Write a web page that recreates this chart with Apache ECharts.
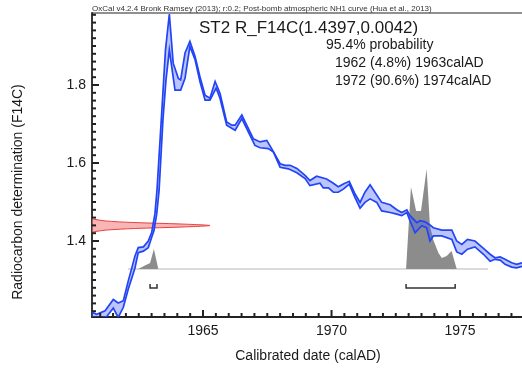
<!DOCTYPE html>
<html><head><meta charset="utf-8">
<script src="https://cdn.jsdelivr.net/npm/echarts@6/dist/echarts.min.js"></script>
<style>html,body{margin:0;padding:0;background:#fff}#c{width:522px;height:370px}</style>
</head><body><div id="c"></div>
<script>
// ---- texts ----
const headerText = 'OxCal v4.2.4 Bronk Ramsey (2013); r:0.2; Post-bomb atmospheric NH1 curve (Hua et al., 2013)';
const sampleTitle = 'ST2 R_F14C(1.4397,0.0042)';
const probLines = ['95.4% probability', '1962 (4.8%) 1963calAD', '1972 (90.6%) 1974calAD'];
const xAxisName = 'Calibrated date (calAD)';
const yAxisName = 'Radiocarbon determination (F14C)';

// ---- ticks ----
const xMajorTicks = [1965, 1970, 1975];
const xMinorTicks = [1961, 1961.5, 1962, 1962.5, 1963, 1963.5, 1964, 1964.5, 1965.5, 1966, 1966.5, 1967, 1967.5, 1968, 1968.5, 1969, 1969.5, 1970.5, 1971, 1971.5, 1972, 1972.5, 1973, 1973.5, 1974, 1974.5, 1975.5, 1976, 1976.5, 1977];
const yMajorTicks = [1.4, 1.6, 1.8];
const yMinorTicks = [1.22, 1.24, 1.26, 1.28, 1.30, 1.32, 1.34, 1.36, 1.38, 1.42, 1.44, 1.46, 1.48, 1.50, 1.52, 1.54, 1.56, 1.58, 1.62, 1.64, 1.66, 1.68, 1.70, 1.72, 1.74, 1.76, 1.78, 1.82, 1.84, 1.86, 1.88, 1.90, 1.92, 1.94, 1.96, 1.98];

// ---- calibration curve (upper / lower envelope) ----
const upperYears = [1960.68,1960.86,1961.19,1961.51,1961.70,1961.90,1962.09,1962.23,1962.35,1962.48,1962.68,1962.87,1963.00,1963.13,1963.21,1963.40,1963.54,1963.69,1963.84,1964.04,1964.13,1964.30,1964.49,1964.69,1964.88,1965.08,1965.27,1965.47,1965.66,1965.92,1966.12,1966.25,1966.51,1966.70,1966.96,1967.22,1967.48,1967.67,1968.00,1968.19,1968.39,1968.65,1968.97,1969.16,1969.42,1969.81,1970.07,1970.26,1970.46,1970.69,1970.91,1971.11,1971.30,1971.50,1971.69,1971.95,1972.28,1972.54,1972.73,1972.93,1973.05,1973.32,1973.44,1973.64,1973.83,1973.96,1974.29,1974.68,1974.87,1975.07,1975.29,1975.58,1975.91,1976.17,1976.36,1976.56,1976.75,1977.01,1977.20,1977.41];
const upperVals = [1.217,1.212,1.221,1.250,1.241,1.247,1.297,1.331,1.361,1.383,1.385,1.400,1.421,1.470,1.531,1.736,1.890,1.982,1.856,1.817,1.813,1.882,1.912,1.873,1.821,1.774,1.766,1.809,1.779,1.705,1.697,1.697,1.723,1.697,1.662,1.654,1.658,1.637,1.598,1.594,1.594,1.586,1.568,1.555,1.566,1.559,1.548,1.539,1.546,1.553,1.521,1.499,1.525,1.544,1.525,1.499,1.493,1.480,1.473,1.480,1.465,1.447,1.452,1.449,1.441,1.434,1.428,1.428,1.400,1.391,1.404,1.400,1.381,1.366,1.357,1.359,1.353,1.344,1.340,1.344];
const lowerYears = [1960.68,1960.93,1961.25,1961.51,1961.70,1961.90,1962.09,1962.23,1962.35,1962.48,1962.68,1962.87,1963.00,1963.09,1963.20,1963.29,1963.44,1963.56,1963.69,1963.91,1964.13,1964.30,1964.49,1964.69,1964.88,1965.08,1965.27,1965.51,1965.66,1965.92,1966.25,1966.51,1966.70,1967.02,1967.22,1967.54,1967.74,1968.00,1968.32,1968.65,1968.97,1969.16,1969.55,1969.68,1969.88,1970.07,1970.26,1970.46,1970.69,1970.91,1971.11,1971.30,1971.50,1971.76,1971.95,1972.28,1972.54,1972.73,1972.93,1973.05,1973.25,1973.51,1973.70,1973.83,1973.96,1974.29,1974.68,1974.87,1975.07,1975.29,1975.58,1975.91,1976.17,1976.36,1976.56,1976.75,1977.01,1977.20,1977.41];
const lowerVals = [1.204,1.199,1.206,1.228,1.204,1.230,1.276,1.305,1.330,1.370,1.374,1.383,1.409,1.426,1.470,1.529,1.710,1.813,1.890,1.787,1.787,1.817,1.899,1.865,1.809,1.761,1.761,1.792,1.766,1.697,1.684,1.714,1.688,1.645,1.639,1.637,1.628,1.589,1.585,1.575,1.560,1.542,1.548,1.536,1.536,1.525,1.525,1.533,1.546,1.512,1.484,1.499,1.508,1.499,1.477,1.473,1.469,1.465,1.473,1.452,1.421,1.439,1.434,1.400,1.413,1.413,1.404,1.372,1.366,1.379,1.385,1.366,1.348,1.353,1.351,1.340,1.333,1.331,1.335];

// ---- measurement (red) distribution: F14C value vs relative density ----
const redValues = [1.4240,1.4280,1.4320,1.4360,1.4397,1.4435,1.4475,1.4515,1.4555];
const redDensity = [0.02,0.12,0.36,0.78,1.0,0.76,0.34,0.11,0.02];

// ---- calibrated (grey) distribution: year vs relative probability ----
const grayYears = [1962.48,1962.74,1962.94,1963.09,1963.26,1972.90,1973.09,1973.29,1973.48,1973.70,1973.83,1973.96,1974.16,1974.29,1974.48,1974.67,1974.87];
const grayProb  = [0,0.035,0.06,0.20,0,0,0.82,0.58,0.58,1.0,0.43,0.29,0.16,0.11,0.13,0.18,0];
const grayBaseRange = [1962.08, 1976.09];

// ---- 95.4% ranges ----
const rangeStarts = [1962.94, 1972.90];
const rangeEnds   = [1963.21, 1974.81];

// ---- layout constants ----
const X_MIN = 1960.681, X_MAX = 1977.41, Y_MIN = 1.2051, Y_MAX = 1.9846;
const RED_SPAN = 4.59;          // years at full density
const GRAY_BASE = 1.3282, GRAY_H = 0.2564;
const BRACKET_Y = 1.2795, BRACKET_TICK = 0.0103;
const FONT = '"Liberation Sans", Arial, Helvetica, sans-serif';
const BLUE = '#2244f6';
const MAJOR_LEN = 7, MINOR_LEN = 4;

const chart = echarts.init(document.getElementById('c'), null, {renderer: 'canvas'});

const option = {
  animation: false,
  backgroundColor: '#fff',
  grid: {left: 92, right: 0, top: 13, bottom: 53, show: false, containLabel: false, outerBoundsMode: 'none'},
  xAxis: {
    type: 'value', min: X_MIN, max: X_MAX,
    axisLine: {show: true, lineStyle: {color: '#222', width: 1.8}},
    splitLine: {show: false}, axisTick: {show: false},
    axisLabel: {show: true, customValues: xMajorTicks, margin: 7, color: '#1a1a1a', fontSize: 14, fontFamily: FONT,
      formatter: v => String(Math.round(v))}
  },
  yAxis: {
    type: 'value', min: Y_MIN, max: Y_MAX,
    axisLine: {show: true, lineStyle: {color: '#222', width: 1.8}},
    splitLine: {show: false}, axisTick: {show: false},
    axisLabel: {show: true, customValues: yMajorTicks, margin: 6, color: '#1a1a1a', fontSize: 14, fontFamily: FONT,
      formatter: v => v.toFixed(1)}
  },
  series: [
    {type: 'custom', data: [[1965, 1.5]], clip: true, silent: true, z: 1,
      renderItem: function (params, api) {
        const pts = [api.coord([grayYears[0], GRAY_BASE])];
        grayYears.forEach((x, i) => pts.push(api.coord([x, GRAY_BASE + grayProb[i] * GRAY_H])));
        pts.push(api.coord([grayYears[grayYears.length - 1], GRAY_BASE]));
        const a = api.coord([grayBaseRange[0], GRAY_BASE]), b = api.coord([grayBaseRange[1], GRAY_BASE]);
        return {type: 'group', children: [
          {type: 'line', shape: {x1: a[0], y1: a[1], x2: b[0], y2: b[1]}, style: {stroke: '#b8b8b8', lineWidth: 1}},
          {type: 'polygon', shape: {points: pts}, style: {fill: '#8c8c8c', stroke: null}}
        ]};
      }},
    {type: 'custom', data: [[1965, 1.5]], clip: true, silent: true, z: 2,
      renderItem: function (params, api) {
        const pts = [api.coord([X_MIN, redValues[0]])];
        redValues.forEach((v, i) => pts.push(api.coord([X_MIN + redDensity[i] * RED_SPAN, v])));
        pts.push(api.coord([X_MIN, redValues[redValues.length - 1]]));
        return {type: 'polygon', shape: {points: pts, smooth: 0.3}, style: {fill: 'rgba(240,120,120,0.55)', stroke: '#e8413f', lineWidth: 1}};
      }},
    {type: 'custom', data: [[1965, 1.5]], clip: true, silent: true, z: 3,
      renderItem: function (params, api) {
        const up = upperYears.map((x, i) => api.coord([x, upperVals[i]]));
        const lo = lowerYears.map((x, i) => api.coord([x, lowerVals[i]]));
        return {type: 'group', children: [
          {type: 'polygon', shape: {points: up.concat(lo.slice().reverse())}, style: {fill: 'rgba(70,95,245,0.36)', stroke: null}},
          {type: 'polyline', shape: {points: up}, style: {stroke: BLUE, lineWidth: 1.7, fill: null}},
          {type: 'polyline', shape: {points: lo}, style: {stroke: BLUE, lineWidth: 1.7, fill: null}}
        ]};
      }},
    {type: 'custom', data: [[1965, 1.5]], clip: false, silent: true, z: 4,
      renderItem: function (params, api) {
        const kids = [];
        rangeStarts.forEach((s, i) => {
          const p1 = api.coord([s, BRACKET_Y + BRACKET_TICK]), p2 = api.coord([s, BRACKET_Y]);
          const p3 = api.coord([rangeEnds[i], BRACKET_Y]), p4 = api.coord([rangeEnds[i], BRACKET_Y + BRACKET_TICK]);
          kids.push({type: 'polyline', shape: {points: [p1, p2, p3, p4]}, style: {stroke: '#333', lineWidth: 1.5, fill: null}});
        });
        return {type: 'group', children: kids};
      }},
    // axis ticks, placed through the axis scales
    {type: 'custom', data: [[1965, 1.5]], clip: false, silent: true, z: 5,
      renderItem: function (params, api) {
        const kids = [];
        xMajorTicks.concat(xMinorTicks).forEach((t, i) => {
          const p = api.coord([t, Y_MIN]);
          const len = i < xMajorTicks.length ? MAJOR_LEN : MINOR_LEN;
          kids.push({type: 'line', shape: {x1: p[0], y1: p[1], x2: p[0], y2: p[1] - len},
            style: {stroke: '#222', lineWidth: 2}});
        });
        yMajorTicks.concat(yMinorTicks).forEach((t, i) => {
          const p = api.coord([X_MIN, t]);
          const len = i < yMajorTicks.length ? MAJOR_LEN : MINOR_LEN;
          kids.push({type: 'line', shape: {x1: p[0], y1: p[1], x2: p[0] + len, y2: p[1]},
            style: {stroke: '#222', lineWidth: 2}});
        });
        return {type: 'group', children: kids};
      }}
  ],
  graphic: [
    {type: 'line', shape: {x1: 92, y1: 13, x2: 522, y2: 13}, style: {stroke: '#222', lineWidth: 1.2}, z: 10},
    {type: 'text', x: 92, y: 9, style: {text: headerText, font: '8px ' + FONT, fill: '#333', textVerticalAlign: 'middle'}, z: 11},
    {type: 'text', x: 199, y: 28, style: {text: sampleTitle, font: '17px ' + FONT, fill: '#1a1a1a', textVerticalAlign: 'middle'}},
    {type: 'text', x: 326, y: 45, style: {text: probLines[0], font: '14px ' + FONT, fill: '#1a1a1a', textVerticalAlign: 'middle'}},
    {type: 'text', x: 335, y: 63, style: {text: probLines[1], font: '14px ' + FONT, fill: '#1a1a1a', textVerticalAlign: 'middle'}},
    {type: 'text', x: 335, y: 81, style: {text: probLines[2], font: '14px ' + FONT, fill: '#1a1a1a', textVerticalAlign: 'middle'}},
    {type: 'text', x: 308, y: 356, style: {text: xAxisName, font: '14px ' + FONT, fill: '#1a1a1a', textAlign: 'center', textVerticalAlign: 'middle'}},
    {type: 'text', x: 18, y: 192, rotation: Math.PI / 2, style: {text: yAxisName, font: '14px ' + FONT, fill: '#1a1a1a', textAlign: 'center', textVerticalAlign: 'middle'}}
  ]
};
chart.setOption(option);
</script>
</body></html>
